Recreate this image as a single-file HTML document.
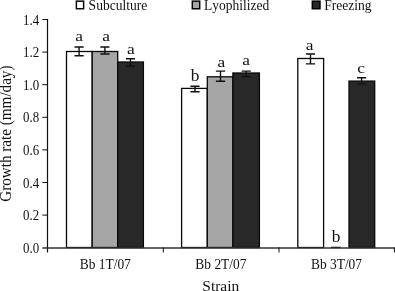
<!DOCTYPE html>
<html><head><meta charset="utf-8">
<style>
html,body{margin:0;padding:0;background:#fff;}
body{width:395px;height:291px;overflow:hidden;}
svg{display:block;opacity:0.999;will-change:transform;}
text{font-family:"Liberation Serif",serif;fill:#111;font-kerning:none;}
</style></head><body>
<svg width="395" height="291" viewBox="0 0 395 291">
<rect width="395" height="291" fill="#fff"/>
<rect x="76.4" y="1.15" width="7.2" height="7.6" fill="#fff" stroke="#000" stroke-width="1.45"/>
<rect x="192.3" y="1.15" width="7.4" height="7.6" fill="#a6a6a6" stroke="#000" stroke-width="1.45"/>
<rect x="312.3" y="1.15" width="7.7" height="7.6" fill="#282828" stroke="#000" stroke-width="1.45"/>
<text transform="translate(88.6 9.65) scale(1.018 1.06)" font-size="13.3" text-anchor="start">Subculture</text>
<text transform="translate(203.9 9.65) scale(1.018 1.06)" font-size="13.3" text-anchor="start">Lyophilized</text>
<text transform="translate(324.3 9.65) scale(1.018 1.06)" font-size="13.3" text-anchor="start">Freezing</text>
<g stroke="#080808" stroke-width="1.3">
<rect x="66.5" y="51.5" width="25.7" height="196.0" fill="#fff"/>
<rect x="92.2" y="51.5" width="25.5" height="196.0" fill="#a6a6a6"/>
<rect x="117.7" y="62" width="25.7" height="185.5" fill="#282828"/>
<rect x="181.6" y="88.4" width="25.7" height="159.1" fill="#fff"/>
<rect x="207.3" y="76.8" width="25.6" height="170.7" fill="#a6a6a6"/>
<rect x="232.9" y="73" width="26.5" height="174.5" fill="#282828"/>
<rect x="297.8" y="58.5" width="25.8" height="189.0" fill="#fff"/>
<rect x="349" y="81.1" width="25.7" height="166.4" fill="#282828"/>
</g>
<line x1="47.5" y1="19" x2="47.5" y2="252.5" stroke="#111" stroke-width="1.2"/>
<line x1="42.3" y1="248.0" x2="395" y2="248.0" stroke="#333" stroke-width="1.4"/>
<g stroke="#111" stroke-width="1">
<line x1="42.3" y1="19.5" x2="47.5" y2="19.5"/>
<line x1="42.3" y1="52.1" x2="47.5" y2="52.1"/>
<line x1="42.3" y1="84.7" x2="47.5" y2="84.7"/>
<line x1="42.3" y1="117.3" x2="47.5" y2="117.3"/>
<line x1="42.3" y1="149.9" x2="47.5" y2="149.9"/>
<line x1="42.3" y1="182.5" x2="47.5" y2="182.5"/>
<line x1="42.3" y1="215.1" x2="47.5" y2="215.1"/>
<line x1="163.3" y1="247.5" x2="163.3" y2="252.5"/>
<line x1="279.0" y1="247.5" x2="279.0" y2="252.5"/>
<line x1="394.4" y1="247.5" x2="394.4" y2="252.5"/>
</g>
<g stroke="#111" stroke-width="1.4" fill="none">
<path d="M74.5 47.0H83.69999999999999M79.1 47.0V55.7M74.5 55.7H83.69999999999999"/>
<path d="M100.30000000000001 47.0H109.5M104.9 47.0V54.0M100.30000000000001 54.0H109.5"/>
<path d="M125.9 58.7H135.1M130.5 58.7V66.3M125.9 66.3H135.1"/>
<path d="M190.4 86.2H199.6M195 86.2V91.8M190.4 91.8H199.6"/>
<path d="M215.9 71.1H225.1M220.5 71.1V81.2M215.9 81.2H225.1"/>
<path d="M241.6 71.1H250.79999999999998M246.2 71.1V76.6M241.6 76.6H250.79999999999998"/>
<path d="M305.9 54.0H315.1M310.5 54.0V63.9M305.9 63.9H315.1"/>
<path d="M357.0 77.8H366.20000000000005M361.6 77.8V83.9M357.0 83.9H366.20000000000005"/>
<path d="M331 247.4H340.7" stroke="#2a2a2a"/>
</g>
<text transform="translate(79 41.3) scale(1.04 0.93)" font-size="16.7" text-anchor="middle">a</text>
<text transform="translate(106.0 41.3) scale(1.04 0.93)" font-size="16.7" text-anchor="middle">a</text>
<text transform="translate(130.8 54.3) scale(1.04 0.93)" font-size="16.7" text-anchor="middle">a</text>
<text transform="translate(195.2 81.0) scale(1.04 0.945)" font-size="16.7" text-anchor="middle">b</text>
<text transform="translate(221.3 66.5) scale(1.04 0.93)" font-size="16.7" text-anchor="middle">a</text>
<text transform="translate(246.2 65.1) scale(1.04 0.93)" font-size="16.7" text-anchor="middle">a</text>
<text transform="translate(309.7 49.9) scale(1.04 0.93)" font-size="16.7" text-anchor="middle">a</text>
<text transform="translate(361 72.7) scale(1.04 0.93)" font-size="16.7" text-anchor="middle">c</text>
<text transform="translate(336.0 242.2) scale(1.04 0.945)" font-size="16.7" text-anchor="middle">b</text>
<text transform="translate(39.2 24.6) scale(0.97 1.05)" font-size="13.3" text-anchor="end">1.4</text>
<text transform="translate(39.2 57.2) scale(0.97 1.05)" font-size="13.3" text-anchor="end">1.2</text>
<text transform="translate(39.2 89.8) scale(0.97 1.05)" font-size="13.3" text-anchor="end">1.0</text>
<text transform="translate(39.2 122.4) scale(0.97 1.05)" font-size="13.3" text-anchor="end">0.8</text>
<text transform="translate(39.2 155.0) scale(0.97 1.05)" font-size="13.3" text-anchor="end">0.6</text>
<text transform="translate(39.2 187.6) scale(0.97 1.05)" font-size="13.3" text-anchor="end">0.4</text>
<text transform="translate(39.2 220.2) scale(0.97 1.05)" font-size="13.3" text-anchor="end">0.2</text>
<text transform="translate(39.2 252.8) scale(0.97 1.05)" font-size="13.3" text-anchor="end">0.0</text>
<text transform="translate(105.3 269.4) scale(1.01 1.03)" font-size="13.3" text-anchor="middle">Bb 1T/07</text>
<text transform="translate(220.9 269.4) scale(1.01 1.03)" font-size="13.3" text-anchor="middle">Bb 2T/07</text>
<text transform="translate(336.5 269.4) scale(1.01 1.03)" font-size="13.3" text-anchor="middle">Bb 3T/07</text>
<text transform="translate(220.8 290.5) scale(1.03 0.96)" font-size="15" text-anchor="middle">Strain</text>
<text transform="translate(11.2 133.6) rotate(-90) scale(1.01 1.05)" font-size="15" text-anchor="middle">Growth rate (mm/day)</text>
</svg>
</body></html>
